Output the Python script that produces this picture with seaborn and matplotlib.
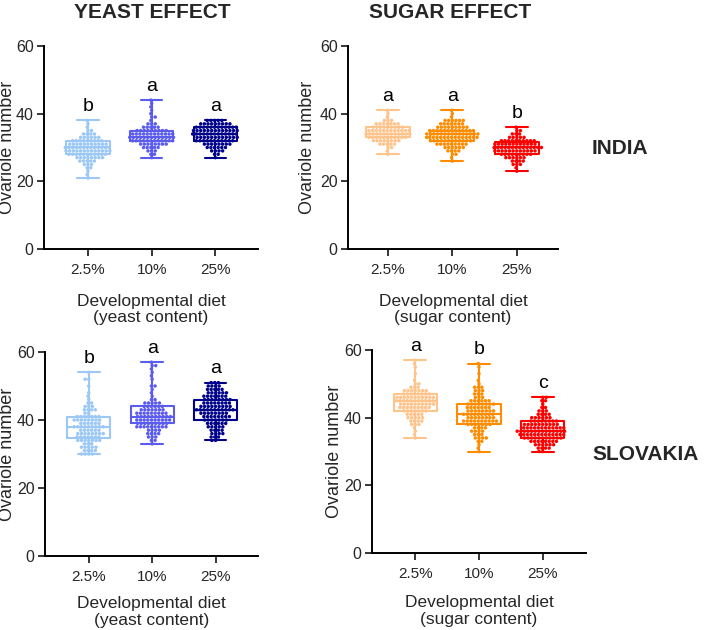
import numpy as np
import pandas as pd
import matplotlib
matplotlib.use("Agg")
import matplotlib.pyplot as plt
import seaborn as sns

sns.set_style("white")
plt.rcParams['font.family'] = ['Liberation Sans', 'DejaVu Sans']

diets = ["2.5%", "10%", "25%"]
yeast_colors = ["#9cc8f5", "#5b5bf0", "#00008b"]
sugar_colors = ["#ffc48c", "#ff8c00", "#ff0000"]

# ---- INDIA, yeast effect (value, count) ----
in_y1_vals = [21, 22, 23, 24, 25, 26, 27, 28, 29, 30, 31, 32, 33, 34, 35, 36, 37, 38]
in_y1_cnts = [1, 1, 1, 2, 3, 5, 8, 11, 13, 13, 11, 9, 6, 4, 2, 1, 1, 1]
in_y2_vals = [27, 28, 29, 30, 31, 32, 33, 34, 35, 36, 37, 38, 39, 40, 41, 42, 43, 44]
in_y2_cnts = [1, 2, 3, 5, 8, 12, 13, 12, 9, 5, 3, 1, 2, 1, 1, 1, 1, 1]
in_y3_vals = [27, 28, 29, 30, 31, 32, 33, 34, 35, 36, 37, 38]
in_y3_cnts = [1, 2, 4, 6, 8, 11, 12, 13, 13, 12, 9, 5]

# ---- INDIA, sugar effect ----
in_s1_vals = [28, 29, 30, 31, 32, 33, 34, 35, 36, 37, 38, 39, 40, 41]
in_s1_cnts = [1, 1, 2, 5, 8, 11, 13, 12, 9, 7, 3, 1, 1, 1]
in_s2_vals = [26, 27, 28, 29, 30, 31, 32, 33, 34, 35, 36, 37, 38, 39, 40, 41]
in_s2_cnts = [1, 1, 2, 4, 6, 9, 12, 15, 15, 13, 9, 7, 6, 1, 1, 1]
in_s3_vals = [23, 24, 25, 26, 27, 28, 29, 30, 31, 32, 33, 34, 35, 36]
in_s3_cnts = [1, 1, 3, 4, 6, 9, 12, 14, 12, 10, 5, 3, 2, 1]

# ---- SLOVAKIA, yeast effect ----
sk_y1_vals = [30, 31, 32, 33, 34, 35, 36, 37, 38, 39, 40, 41, 42, 43, 44, 45, 46, 47, 48, 50, 52, 54]
sk_y1_cnts = [4, 4, 5, 3, 7, 7, 8, 6, 9, 6, 8, 7, 2, 4, 3, 2, 1, 1, 1, 1, 2, 1]
sk_y2_vals = [33, 34, 35, 36, 37, 38, 39, 40, 41, 42, 43, 44, 45, 46, 47, 48, 49, 50, 52, 53, 54, 55, 56, 57]
sk_y2_cnts = [1, 2, 3, 4, 4, 9, 9, 10, 10, 9, 7, 6, 5, 2, 1, 1, 1, 2, 1, 1, 1, 1, 2, 1]
sk_y3_vals = [34, 35, 36, 37, 38, 39, 40, 41, 42, 43, 44, 45, 46, 47, 48, 49, 50, 51]
sk_y3_cnts = [2, 3, 4, 4, 5, 6, 7, 8, 8, 11, 9, 8, 8, 7, 6, 5, 4, 3]

# ---- SLOVAKIA, sugar effect ----
sk_s1_vals = [34, 35, 36, 37, 38, 39, 40, 41, 42, 43, 44, 45, 46, 47, 48, 49, 50, 51, 53, 55, 56, 57]
sk_s1_cnts = [1, 1, 1, 1, 3, 4, 5, 5, 7, 9, 10, 12, 11, 8, 7, 3, 2, 1, 1, 1, 1, 1]
sk_s2_vals = [30, 31, 32, 33, 34, 35, 36, 37, 38, 39, 40, 41, 42, 43, 44, 45, 46, 47, 48, 49, 50, 51, 53, 55, 56]
sk_s2_cnts = [1, 1, 1, 2, 4, 3, 4, 4, 7, 10, 8, 9, 8, 7, 8, 6, 3, 3, 3, 3, 1, 1, 1, 1, 1]
sk_s3_vals = [30, 31, 32, 33, 34, 35, 36, 37, 38, 39, 40, 41, 42, 43, 44, 45, 46]
sk_s3_cnts = [2, 4, 6, 8, 11, 13, 14, 12, 10, 8, 6, 4, 3, 2, 1, 2, 2]

# significance letters
in_y_letters = ["b", "a", "a"]
in_s_letters = ["a", "a", "b"]
sk_y_letters = ["b", "a", "a"]
sk_s_letters = ["a", "b", "c"]


def make_df(groups):
    rows = []
    for d, (vals, cnts) in zip(diets, groups):
        v = np.repeat(vals, cnts)
        rows.append(pd.DataFrame({"diet": d, "value": v}))
    return pd.concat(rows, ignore_index=True)


W, H = 709, 630
fig = plt.figure(figsize=(W / 100, H / 100), dpi=100)

panels = [
    # (rect px: left, top, right, bottom), groups, colors, letters, xlabel, xlim, ylabel right-edge x px, labelpad
    ((44, 46, 258, 249),
     [(in_y1_vals, in_y1_cnts), (in_y2_vals, in_y2_cnts), (in_y3_vals, in_y3_cnts)],
     yeast_colors, in_y_letters, "Developmental diet\n(yeast content)", (-0.69, 2.67), 16, 12),
    ((348, 46, 558, 249),
     [(in_s1_vals, in_s1_cnts), (in_s2_vals, in_s2_cnts), (in_s3_vals, in_s3_cnts)],
     sugar_colors, in_s_letters, "Developmental diet\n(sugar content)", (-0.62, 2.64), 316, 12),
    ((45, 352, 258, 556),
     [(sk_y1_vals, sk_y1_cnts), (sk_y2_vals, sk_y2_cnts), (sk_y3_vals, sk_y3_cnts)],
     yeast_colors, sk_y_letters, "Developmental diet\n(yeast content)", (-0.69, 2.67), 16, 9),
    ((372, 350, 586, 553),
     [(sk_s1_vals, sk_s1_cnts), (sk_s2_vals, sk_s2_cnts), (sk_s3_vals, sk_s3_cnts)],
     sugar_colors, sk_s_letters, "Developmental diet\n(sugar content)", (-0.68, 2.68), 343, 10),
]

for (l, t, r, b), groups, colors, letters, xlabel, xlim, ylx, lpad in panels:
    ax = fig.add_axes([l / W, 1 - b / H, (r - l) / W, (b - t) / H])
    df = make_df(groups)
    sns.swarmplot(data=df, x="diet", y="value", hue="diet", palette=colors,
                  order=diets, hue_order=diets, size=2.5, linewidth=0,
                  legend=False, ax=ax, zorder=2)
    sns.boxplot(data=df, x="diet", y="value", hue="diet", palette=colors,
                order=diets, hue_order=diets, fill=False, whis=(0, 100),
                width=0.68, linewidth=1.5, showfliers=False, legend=False,
                ax=ax, zorder=3)
    for i, (vals, cnts) in enumerate(groups):
        ax.text(i, max(vals) + 1.6, letters[i], ha="center", va="bottom",
                fontsize=14, color="black", clip_on=False)
    ax.set_ylim(0, 60)
    ax.set_xlim(*xlim)
    ax.set_yticks([0, 20, 40, 60])
    ax.set_ylabel("Ovariole number", fontsize=13)
    ax.yaxis.set_label_coords((ylx - l) / (r - l), 0.5)
    ax.set_xlabel(xlabel, fontsize=12.5, labelpad=lpad, linespacing=1.15)
    ax.tick_params(axis="y", labelsize=11.5, length=5, width=1.3, direction="out",
                   left=True, pad=2.5)
    ax.tick_params(axis="x", labelsize=11, length=5, width=1.3, direction="out",
                   bottom=True, pad=5)
    for s in ["top", "right"]:
        ax.spines[s].set_visible(False)
    for s in ["left", "bottom"]:
        ax.spines[s].set_color("black")
        ax.spines[s].set_linewidth(1.4)

fig.text(152 / W, 1 - 13 / H, "YEAST EFFECT", ha="center", va="center",
         fontsize=15, fontweight="bold")
fig.text(450 / W, 1 - 13 / H, "SUGAR EFFECT", ha="center", va="center",
         fontsize=15, fontweight="bold")
fig.text(592 / W, 1 - 148 / H, "INDIA", ha="left", va="center",
         fontsize=15, fontweight="bold")
fig.text(592 / W, 1 - 454 / H, "SLOVAKIA", ha="left", va="center",
         fontsize=15, fontweight="bold")

fig.savefig("out.png", dpi=100)
